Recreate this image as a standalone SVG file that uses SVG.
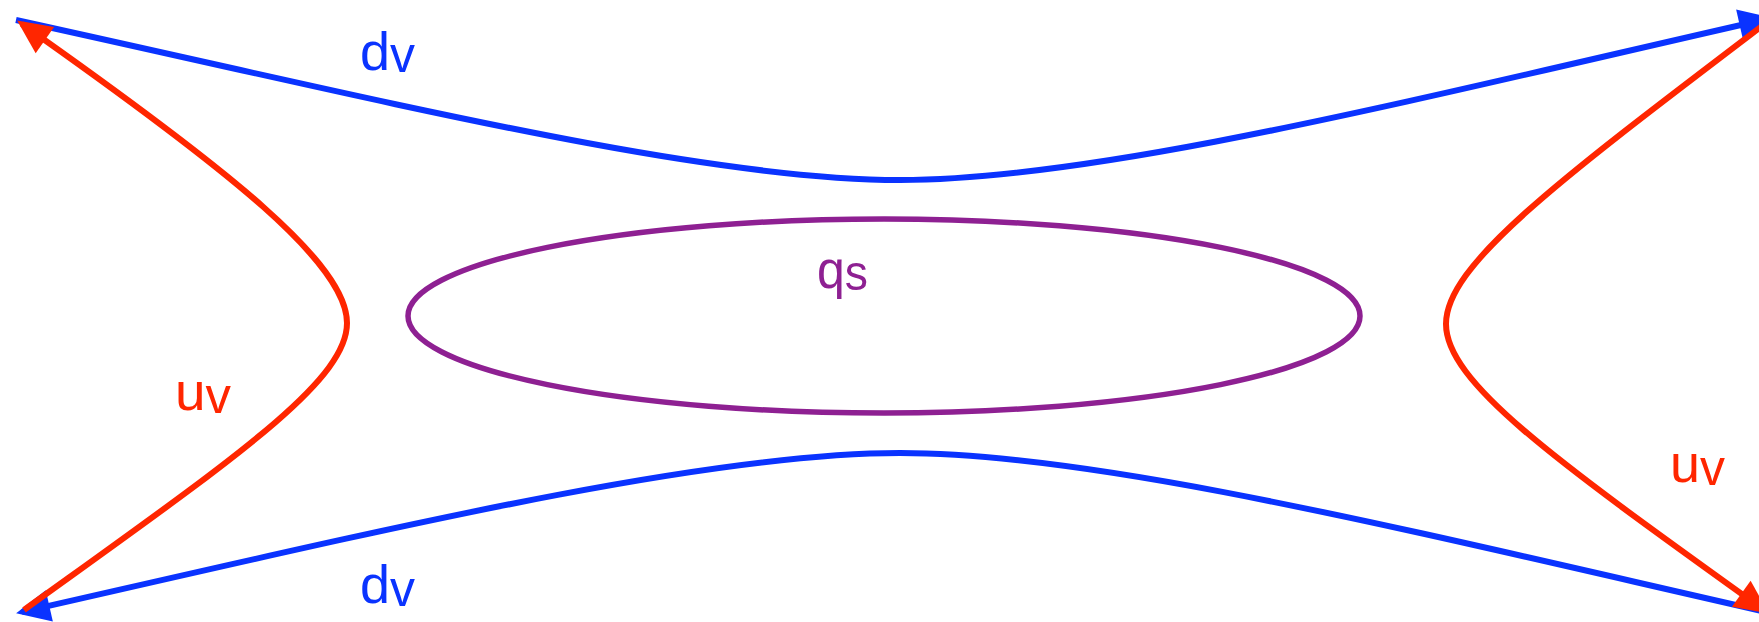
<svg xmlns="http://www.w3.org/2000/svg" width="1759" height="622" viewBox="0 0 1759 622">
<style>
.blue{fill:none;stroke:#0A33FF;stroke-width:6}
.red{fill:none;stroke:#FF2600;stroke-width:6}
.ell{fill:none;stroke:#8E2092;stroke-width:5.5}
text{font-family:"Liberation Sans",Arial,sans-serif;font-size:54px}
.tb{fill:#0A33FF}.tr{fill:#FF2600}.tp{fill:#8E2092}
</style>
<defs>
<marker id="ab" markerUnits="userSpaceOnUse" markerWidth="34" markerHeight="32" refX="28" refY="16" orient="auto" viewBox="0 0 34 32" overflow="visible"><path d="M0,0 L34,16 L0,32 z" fill="#0A33FF"/></marker>
<marker id="ar" markerUnits="userSpaceOnUse" markerWidth="34" markerHeight="32" refX="28" refY="16" orient="auto" viewBox="0 0 34 32" overflow="visible"><path d="M0,0 L34,16 L0,32 z" fill="#FF2600"/></marker>
</defs>
<g id="qs">
<ellipse class="ell" cx="884" cy="316" rx="476" ry="97"/>
<text class="tp" x="817" y="288" textLength="51" lengthAdjust="spacingAndGlyphs">q<tspan dy="2" font-size="50">s</tspan></text>
</g>
<g id="connectors">
<path id="dv-top" class="blue" d="M16,20 C380,100 700,180 900,180 C1100,180 1420,98 1767,19" marker-end="url(#ab)"/>
<path id="dv-bottom" class="blue" d="M1762,611 C1415,532 1100,453 900,453 C700,453 370,533 22,612" marker-end="url(#ab)"/>
<path id="uv-left" class="red" d="M24,610 C232,460 347,382 347,323 C347,264 232,172 22,24" marker-end="url(#ar)"/>
<path id="uv-right" class="red" d="M1762,26 C1558,181 1446,265 1446,324 C1446,383 1558,462 1764,610" marker-end="url(#ar)"/>
</g>
<g id="labels">
<text class="tb" x="360" y="70" textLength="55" lengthAdjust="spacingAndGlyphs">d<tspan dy="2" font-size="50">v</tspan></text>
<text class="tb" x="360" y="603" textLength="55" lengthAdjust="spacingAndGlyphs">d<tspan dy="3" font-size="50">v</tspan></text>
<text class="tr" x="175" y="410" textLength="56" lengthAdjust="spacingAndGlyphs">u<tspan dy="3" font-size="50">v</tspan></text>
<text class="tr" x="1670" y="482" textLength="55" lengthAdjust="spacingAndGlyphs">u<tspan dy="3" font-size="50">v</tspan></text>
</g>
</svg>
